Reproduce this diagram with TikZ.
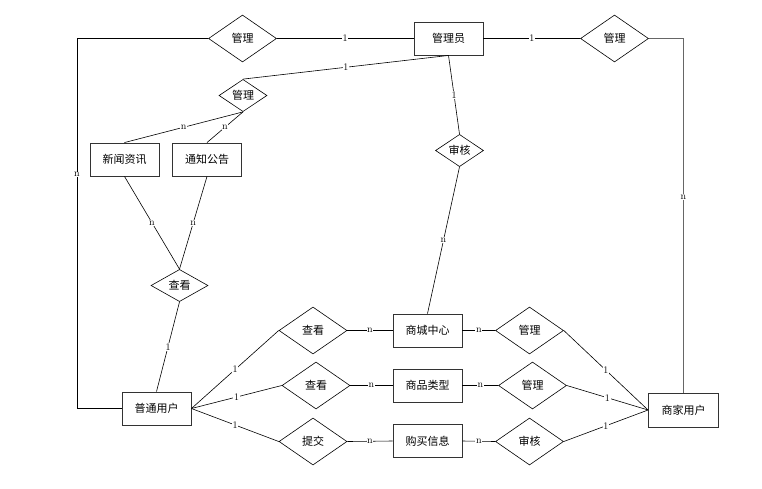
\documentclass[tikz,border=0pt]{standalone}
\usepackage{fontspec}
\newfontfamily\cjk{Noto Sans CJK SC}
\usetikzlibrary{shapes.geometric}

\begin{document}
\begin{tikzpicture}[x=1pt,y=-1pt,line width=0.6pt,
    entity/.style={draw=black!80,line width=0.9pt,rectangle,minimum width=69pt,
      minimum height=33pt,inner sep=0pt,font=\cjk\fontsize{11}{13}\selectfont},
    rel/.style={draw,diamond,inner sep=0pt,minimum width=68pt,
      minimum height=47pt,font=\cjk\fontsize{11}{13}\selectfont},
    smallrel/.style={rel,minimum width=48pt,minimum height=31pt},
    lab/.style={fill=white,inner sep=0.6pt,font=\fontsize{10}{11}\selectfont}]
  \useasboundingbox (0,0) rectangle (762,488);
  \node[entity] (gly) at (448.5,38.5) {管理员};
  \node[rel] (gl1) at (242.5,38.5) {管理};
  \node[rel] (gl3) at (614.5,38.5) {管理};
  \node[smallrel] (gl2) at (243,95.5) {管理};
  \node[smallrel] (sh1) at (459.5,150.5) {审核};
  \node[entity] (xw) at (124.5,159.5) {新闻资讯};
  \node[entity] (tz) at (207,159.5) {通知公告};
  \node[smallrel,minimum width=57pt,minimum height=25pt] (ck0) at (179.5,285.5) {查看};
  \node[entity] (pu) at (156.5,408.5) {普通用户};
  \node[rel] (ck1) at (313,330.5) {查看};
  \node[rel] (ck2) at (316,385.5) {查看};
  \node[rel] (tj) at (313,441.5) {提交};
  \node[entity] (sc) at (427.5,330.5) {商城中心};
  \node[entity] (lx) at (427.5,385.5) {商品类型};
  \node[entity] (gm) at (427.5,441) {购买信息};
  \node[rel] (gl4) at (529.5,330.5) {管理};
  \node[rel] (gl5) at (532.5,385.5) {管理};
  \node[rel] (sh2) at (529.5,441.5) {审核};
  \node[entity,minimum width=70pt,minimum height=34pt] (sj) at (683.5,410) {商家用户};
  \coordinate (lc) at (77,38.5);

  \draw (gl1.east) -- node[lab]{1} (gly.west);
  \draw (gly.east) -- node[lab]{1} (gl3.west);
  \draw (gl1.west) -- (lc) |- node[lab,pos=0.184]{n} (pu.west);
  \draw[black!60,line width=1pt] (gl3.east) -| node[lab,text=black,pos=0.724]{n} (sj.north);
  \draw (gly.south) -- node[lab]{1} (gl2.north);
  \draw (gly.south) -- node[lab]{1} (sh1.north);
  \draw (sh1.south) -- node[lab]{n} (sc.north);
  \foreach \e in {xw,tz}{
    \draw (gl2.south) -- node[lab]{n} (\e.north);
    \draw (\e.south) -- node[lab]{n} (ck0.north);
  }
  \draw (ck0.south) -- node[lab]{1} (pu.north);
  \foreach \r in {ck1,ck2,tj}
    \draw (pu.east) -- node[lab]{1} (\r.west);
  \foreach \a/\b in {ck1/sc,ck2/lx,tj/gm,sc/gl4,lx/gl5,gm/sh2}
    \draw (\a.east) -- node[lab]{n} (\b.west);
  \foreach \r in {gl4,gl5,sh2}
    \draw (\r.east) -- node[lab]{1} (sj.west);
\end{tikzpicture}
\end{document}
